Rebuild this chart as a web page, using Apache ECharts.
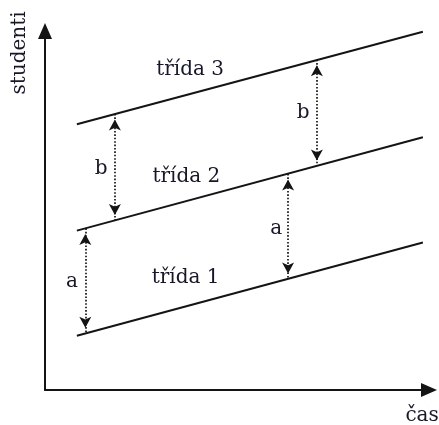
<!DOCTYPE html>
<html>
<head>
<meta charset="utf-8">
<script src="https://cdn.jsdelivr.net/npm/echarts@6/dist/echarts.min.js"></script>
<style>html,body{margin:0;padding:0;background:#fff;}#c{width:439px;height:425px;}</style>
</head>
<body>
<div id="c"></div>
<script>
// time axis (čas) and students axis (studenti), both 0..100
var xRange = [0, 100];
var yRange = [0, 100];

// class lines: [x, y] at start and end
var lineX = [8.3, 98.4];
var trida1 = [15.1, 41.1];
var trida2 = [44.4, 70.4];
var trida3 = [74.0, 99.8];

// gap arrows: x position, top y, bottom y
var arrowX   = [18.2, 70.8, 10.5, 63.3];
var arrowTop = [76.9, 92.0, 45.0, 60.2];
var arrowBot = [47.2, 62.4, 15.8, 30.9];

// text labels
var labelText = ['třída 3', 'třída 2', 'třída 1', 'b', 'b', 'a', 'a', 'studenti', 'čas'];
var labelX    = [37.8, 36.8, 36.6, 14.6, 67.2, 7.0, 60.2, -6.5, 98.2];
var labelY    = [89.1, 59.3, 31.2, 61.6, 77.2, 30.1, 44.8, 93.9, -7.2];
var labelRot  = [0, 0, 0, 0, 0, 0, 0, 90, 0];

var ink = '#141414';
var textInk = '#15172a';
var font = 'DejaVu Serif';

function seg(ys) { return [[lineX[0], ys[0]], [lineX[1], ys[1]]]; }

var markData = arrowX.map(function (x, i) {
  return [{ coord: [x, arrowTop[i]] }, { coord: [x, arrowBot[i]] }];
});

var chart = echarts.init(document.getElementById('c'), null, { renderer: 'canvas' });
chart.setOption({
  animation: false,
  backgroundColor: '#fff',
  grid: { left: 45, right: 10, top: 31, bottom: 35 },
  xAxis: {
    type: 'value', min: xRange[0], max: xRange[1],
    axisLine: { show: true, onZero: false, symbol: ['none', 'triangle'], symbolSize: [14, 16],
      lineStyle: { color: ink, width: 2 } },
    axisTick: { show: false }, axisLabel: { show: false }, splitLine: { show: false }
  },
  yAxis: {
    type: 'value', min: yRange[0], max: yRange[1],
    axisLine: { show: true, onZero: false, symbol: ['none', 'triangle'], symbolSize: [14, 16],
      lineStyle: { color: ink, width: 2 } },
    axisTick: { show: false }, axisLabel: { show: false }, splitLine: { show: false }
  },
  series: [
    { type: 'line', data: seg(trida1), showSymbol: false, lineStyle: { color: ink, width: 2 },
      markLine: {
        silent: true, animation: false,
        symbol: ['arrow', 'arrow'], symbolSize: [9, 11],
        symbolOffset: [[0, '50%'], [0, '50%']],
        label: { show: false },
        lineStyle: { color: ink, width: 1.7, type: [1.6, 1.8] },
        emphasis: { disabled: true },
        data: markData
      } },
    { type: 'line', data: seg(trida2), showSymbol: false, lineStyle: { color: ink, width: 2 } },
    { type: 'line', data: seg(trida3), showSymbol: false, lineStyle: { color: ink, width: 2 } },
    { type: 'scatter', clip: false, symbolSize: 0, silent: true,
      itemStyle: { opacity: 1 },
      data: labelText.map(function (t, i) {
        return { value: [labelX[i], labelY[i]], name: t, label: { rotate: labelRot[i] } };
      }),
      label: { show: true, position: 'inside', formatter: '{b}', color: textInk,
        fontFamily: font, fontSize: 20, align: 'center', verticalAlign: 'middle' } }
  ]
});
</script>
</body>
</html>
